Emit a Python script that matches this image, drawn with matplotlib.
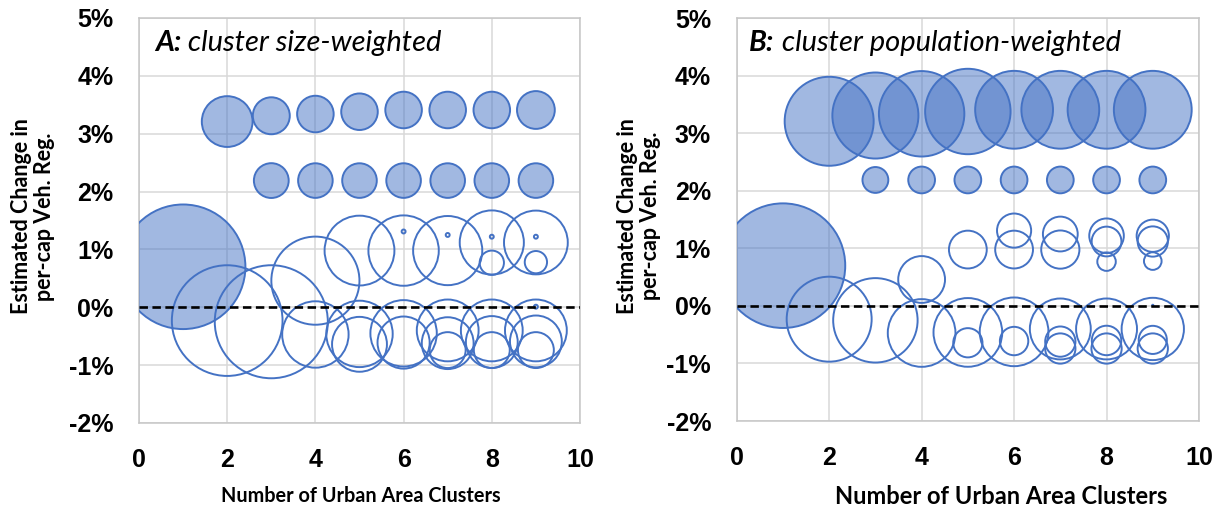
import matplotlib
matplotlib.use("Agg")
import matplotlib.pyplot as plt
import numpy as np

# estimates (% change) per number of clusters k=1..9, shared by both panels
est = {
    1: [0.70],
    2: [3.21, -0.23],
    3: [3.31, 2.19, -0.25],
    4: [3.34, 2.19, 0.46, -0.47],
    5: [3.38, 2.19, 0.98, -0.46, -0.64],
    6: [3.41, 2.19, 1.31, 0.98, -0.45, -0.61],
    7: [3.41, 2.19, 1.25, 0.98, -0.40, -0.62, -0.74],
    8: [3.41, 2.19, 1.22, 1.12, 0.77, -0.40, -0.60, -0.74],
    9: [3.41, 2.19, 1.22, 1.12, 0.78, 0.01, -0.40, -0.59, -0.74],
}
# 1 = significant (filled bubble), 0 = not significant (hollow)
sig = {
    1: [1],
    2: [1, 0],
    3: [1, 1, 0],
    4: [1, 1, 0, 0],
    5: [1, 1, 0, 0, 0],
    6: [1, 1, 0, 0, 0, 0],
    7: [1, 1, 0, 0, 0, 0, 0],
    8: [1, 1, 0, 0, 0, 0, 0, 0],
    9: [1, 1, 0, 0, 0, 0, 0, 0, 0],
}
# cluster size weights (% of urban areas)
w_size = {
    1: [100],
    2: [16.6, 78.9],
    3: [8.8, 7.8, 82.3],
    4: [8.6, 7.7, 50.0, 28.4],
    5: [8.6, 7.7, 31.4, 28.4, 19.4],
    6: [8.6, 7.7, 0.1, 31.9, 28.4, 17.5],
    7: [8.6, 7.7, 0.1, 30.8, 24.6, 17.3, 8.3],
    8: [8.6, 7.7, 0.1, 26.5, 3.8, 24.6, 17.3, 8.3],
    9: [9.2, 7.7, 0.1, 26.2, 3.2, 0.1, 24.6, 17.3, 8.3],
}
# cluster population weights (% of population)
w_pop = {
    1: [100],
    2: [51.0, 46.5],
    3: [47.7, 4.3, 45.9],
    4: [47.0, 4.6, 14.1, 29.5],
    5: [47.0, 4.6, 9.2, 30.4, 5.5],
    6: [39.0, 4.6, 7.5, 9.2, 30.4, 5.2],
    7: [39.0, 4.6, 7.8, 9.4, 23.9, 5.9, 5.9],
    8: [39.0, 4.6, 7.7, 5.7, 2.2, 23.9, 5.6, 5.9],
    9: [39.0, 4.6, 6.7, 5.9, 2.0, 0.01, 25.0, 5.1, 5.9],
}

blue = "#4472C4"
fill = (0x44/255, 0x72/255, 0xC4/255, 0.5)
DPI = 100
RMAX = 62.3  # px radius of a 100-weight bubble


def bubbles(ax, weights):
    xs, ys, ss, fcs = [], [], [], []
    for k in est:
        for v, s, w in zip(est[k], sig[k], weights[k]):
            r = RMAX*np.sqrt(w/100.0)
            xs.append(k)
            ys.append(v)
            ss.append((2*r*72.0/DPI)**2)
            fcs.append(fill if s else "none")
    ax.scatter(xs, ys, s=ss, facecolors=fcs, edgecolors=blue,
               linewidths=1.4, zorder=3)
    ax.axhline(0, color="black", lw=1.9, ls=(0, (3.2, 1.7)), zorder=4)

    ax.set_xlim(0, 10)
    ax.set_ylim(-2, 5)
    ax.set_xticks([0, 2, 4, 6, 8, 10])
    ax.set_yticks(range(-2, 6))
    ax.set_yticklabels(["%d%%" % t for t in range(-2, 6)])
    ax.grid(color="#D9D9D9", lw=1.1, zorder=0)
    ax.set_axisbelow(True)
    for sp in ax.spines.values():
        sp.set_color("#C6C6C6")
        sp.set_linewidth(1.1)
    ax.tick_params(length=0, labelsize=18)
    ax.tick_params(axis="y", pad=18.5)
    ax.tick_params(axis="x", pad=18)
    for lab in ax.get_xticklabels() + ax.get_yticklabels():
        lab.set_fontfamily("Liberation Sans")
        lab.set_fontweight("bold")
    ax.set_ylabel("Estimated Change in\nper-cap Veh. Reg.", fontsize=15.5,
                  fontweight="bold", family="Lato", linespacing=1.15)


fig = plt.figure(figsize=(12.24, 5.12), dpi=DPI)
ax1 = fig.add_axes([0.11356, 0.17383, 0.36029, 0.79102])
ax2 = fig.add_axes([0.60188, 0.17773, 0.37770, 0.78653])

bubbles(ax1, w_size)
bubbles(ax2, w_pop)
ax1.yaxis.set_label_coords(-0.19, 0.51)
ax2.yaxis.set_label_coords(-0.163, 0.51)

ax1.set_xlabel("Number of Urban Area Clusters", fontsize=14.3,
               fontweight="bold", family="Lato")
ax1.xaxis.set_label_coords(0.503, -0.155)
ax2.set_xlabel("Number of Urban Area Clusters", fontsize=17,
               fontweight="bold", family="Lato")
ax2.xaxis.set_label_coords(0.572, -0.158)

for ax, x0, tag, rest in [(ax1, 0.036, "A:", " cluster size-weighted"),
                          (ax2, 0.027, "B:", " cluster population-weighted")]:
    t = ax.text(x0, 0.938, tag, transform=ax.transAxes,
                fontsize=21, fontweight="bold", style="italic", family="Lato",
                va="center", ha="left", zorder=5)
    ax.annotate(rest, xy=(1, 0), xycoords=t, va="bottom", ha="left",
                fontsize=21, style="italic", family="Lato", zorder=5)

fig.savefig("out.png", dpi=DPI)
